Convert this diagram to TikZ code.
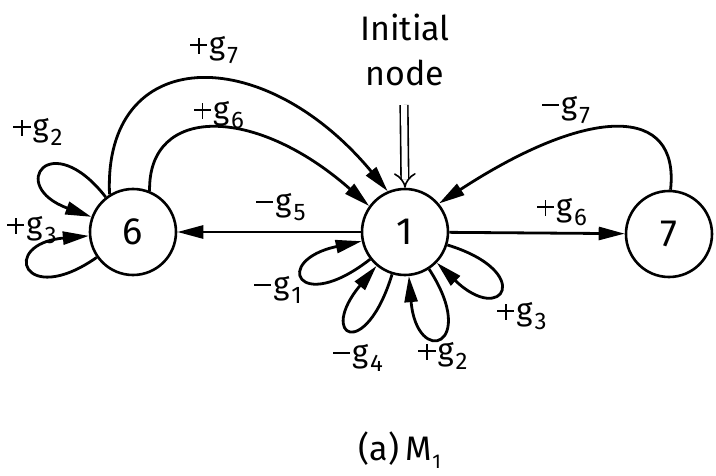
\documentclass[tikz,border=0pt]{standalone}
\usepackage{fontspec}
\setmainfont{Fira Sans}
\usetikzlibrary{arrows.meta}
\newcommand\mn{\rule[0.27em]{0.55em}{1.8pt}}
\newcommand\pl{\rlap{\rule[0.27em]{0.55em}{1.8pt}}\kern\dimexpr0.275em-0.9pt\relax\rule[0.02em]{1.8pt}{0.52em}\kern\dimexpr0.275em-0.9pt\relax}
\newcommand\glab[2]{#1\kern2pt g\kern2pt\raisebox{-9pt}{\fontsize{24}{24}\selectfont #2}}
\begin{document}
\begin{tikzpicture}[x=1pt,y=-1pt,
  state/.style={circle,draw,line width=2.6pt,minimum size=86pt,inner sep=0pt,font=\fontsize{38}{38}\selectfont},
  edge/.style={line width=2.8pt,-{Triangle[length=26pt,width=13pt]}},
  lbl/.style={font=\fontsize{31}{31}\selectfont,inner sep=0pt}]
\useasboundingbox (0,0) rectangle (716,476);
% states
\node[state] (n6) at (133,232) {6};
\node[state] (n1) at (405,232) {1};
\node[state] (n7) at (669,234) {7};
% initial marker
\node[font=\fontsize{34}{45}\selectfont,align=center,inner sep=0pt] (init) at (405,50) {Initial\\node};
\coordinate (istart) at (404,105);
\draw[double,double distance=6pt,line width=1.6pt,-{Implies}] (istart) -- (n1.north);
% straight edges
\draw[edge] (n1) -- (n6);
\draw[edge] (n1) -- (n7);
% curved edges
\draw[edge] (n6.122) .. controls (103,45) and (262,40) .. (n1.113);
\draw[edge] (n6.68) .. controls (148,105) and (255,105) .. (n1.144);
\draw[edge] (n7.88) .. controls (680,105) and (590,105) .. (n1.40);
% loops at 6
\draw[edge] (n6) to[out=128,in=160,distance=90pt] (n6);
\draw[edge] (n6) to[out=215,in=185,distance=90pt] (n6);
% loops at 1
\draw[edge] (n1) to[out=218,in=192,distance=92pt] (n1);
\draw[edge] (n1) to[out=253,in=230,distance=92pt] (n1);
\draw[edge] (n1) to[out=303,in=275,distance=92pt] (n1);
\draw[edge] (n1) to[out=343,in=316,distance=92pt] (n1);
% labels
\node[lbl] (la) at (214,50) {\glab{\pl}{7}};
\node[lbl] (lb) at (219,115) {\glab{\pl}{6}};
\node[lbl] (lc) at (38,132) {\glab{\pl}{2}};
\node[lbl] (ld) at (32,230) {\glab{\pl}{3}};
\node[lbl] (le) at (281,207) {\glab{\mn}{5}};
\node[lbl] (lf) at (566,110) {\glab{\mn}{7}};
\node[lbl] (lg) at (562,212) {\glab{\pl}{6}};
\node[lbl] (lh) at (278,290) {\glab{\mn}{1}};
\node[lbl] (li) at (358,358) {\glab{\mn}{4}};
\node[lbl] (lj) at (443,356) {\glab{\pl}{2}};
\node[lbl] (lk) at (522,316) {\glab{\pl}{3}};
% caption
\node[font=\fontsize{34}{34}\selectfont,inner sep=0pt] (cap) at (400,450) {(a)\,M\kern1pt\raisebox{-8pt}{\fontsize{20}{20}\selectfont 1}};
\end{tikzpicture}
\end{document}
